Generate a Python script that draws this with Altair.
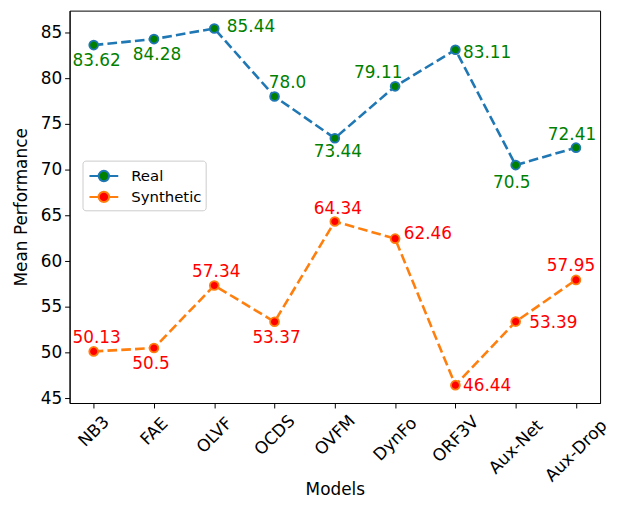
import altair as alt
import pandas as pd

models = ["NB3", "FAE", "OLVF", "OCDS", "OVFM", "DynFo", "ORF3V", "Aux-Net", "Aux-Drop"]
real = [83.62, 84.28, 85.44, 78.0, 73.44, 79.11, 83.11, 70.5, 72.41]
synthetic = [50.13, 50.5, 57.34, 53.37, 64.34, 62.46, 46.44, 53.39, 57.95]
series_names = ["Real", "Synthetic"]
line_colors = ["#1f77b4", "#ff7f0e"]
marker_fill = ["green", "red"]
y_ticks = [45, 50, 55, 60, 65, 70, 75, 80, 85]

# annotation placement (pixel offsets of label centre from its point)
real_dx = [3, 3, 37, 13, 3, -17, 32, -4, -4]
real_dy = [16, 16, -1, -14, 14, -13, 3, 18, -13]
syn_dx = [3, -3, 2, 2, 3, 33, 32, 38, -5]
syn_dy = [-13, 16, -14, 16, -13, -5, 1, 1, -14]

rows = []
for vals, name, dxs, dys in [(real, "Real", real_dx, real_dy), (synthetic, "Synthetic", syn_dx, syn_dy)]:
    for m, v, dx, dy in zip(models, vals, dxs, dys):
        rows.append({"model": m, "value": v, "series": name, "label": str(v), "dx": dx, "dy": dy})
df = pd.DataFrame(rows)

FONT = "DejaVu Sans"

x_enc = alt.X("model:N", sort=models,
              scale=alt.Scale(type="point", padding=0.4, domain=models),
              axis=alt.Axis(title="Models", labelAngle=-45, labelAlign="center",
                            labelBaseline="middle",
                            labelPadding={"expr": "5 + 0.354*(length(datum.label)*11 + 19)"},
                            titleY=92, titleBaseline="alphabetic"))
y_enc = alt.Y("value:Q", scale=alt.Scale(domain=[44.49, 87.39], nice=False, zero=False),
              axis=alt.Axis(title="Mean Performance", values=y_ticks, titlePadding=10))

legend_path = ("M-1.38,0L-0.5,0M0.5,0L1.38,0"
               "M-0.5,0A0.5,0.5,0,1,1,0.5,0A0.5,0.5,0,1,1,-0.5,0Z")
leg = alt.Legend(title=None, orient="none", legendX=13, legendY=151,
                 symbolType=legend_path, symbolSize=441, symbolStrokeWidth=2,
                 symbolOffset=6, labelOffset=16, labelFontSize=15, labelFont=FONT,
                 labelColor="black", padding=4, strokeColor="#cccccc", fillColor="white",
                 cornerRadius=3, rowPadding=0)

lines = alt.Chart(df).mark_line(strokeDash=[9.7, 4.2], strokeWidth=2.6).encode(
    x=x_enc, y=y_enc,
    color=alt.Color("series:N", scale=alt.Scale(domain=series_names, range=line_colors), legend=None),
    detail="series:N",
)

points = alt.Chart(df).mark_point(filled=True, size=80, strokeWidth=1.75, opacity=1).encode(
    x=x_enc, y=y_enc,
    fill=alt.Fill("series:N", scale=alt.Scale(domain=series_names, range=marker_fill), legend=leg),
    stroke=alt.Stroke("series:N", scale=alt.Scale(domain=series_names, range=line_colors), legend=leg),
)

texts = alt.Chart(df).mark_text(font=FONT, fontSize=17, align="center", baseline="middle",
                                dx={"expr": "datum.dx"}, dy={"expr": "datum.dy"}).encode(
    x=x_enc, y=y_enc,
    text="label:N",
    color=alt.Color("series:N", scale=alt.Scale(domain=series_names, range=marker_fill), legend=None),
)

chart = alt.layer(lines, points, texts).resolve_scale(color="independent").properties(
    width=534, height=395,
    autosize=alt.AutoSizeParams(type="none"),
    padding={"left": 62, "top": 1, "right": 10, "bottom": 98},
).configure_view(stroke="black", strokeWidth=1).configure_axis(
    grid=False, domainColor="black", tickColor="black", tickSize=5, labelFontSize=17,
    labelFont=FONT, labelColor="black", titleFont=FONT, titleFontSize=17,
    titleFontWeight="normal", titleColor="black", labelPadding=3,
)

chart.save("out.html", embed_options={"renderer": "svg", "actions": False})
